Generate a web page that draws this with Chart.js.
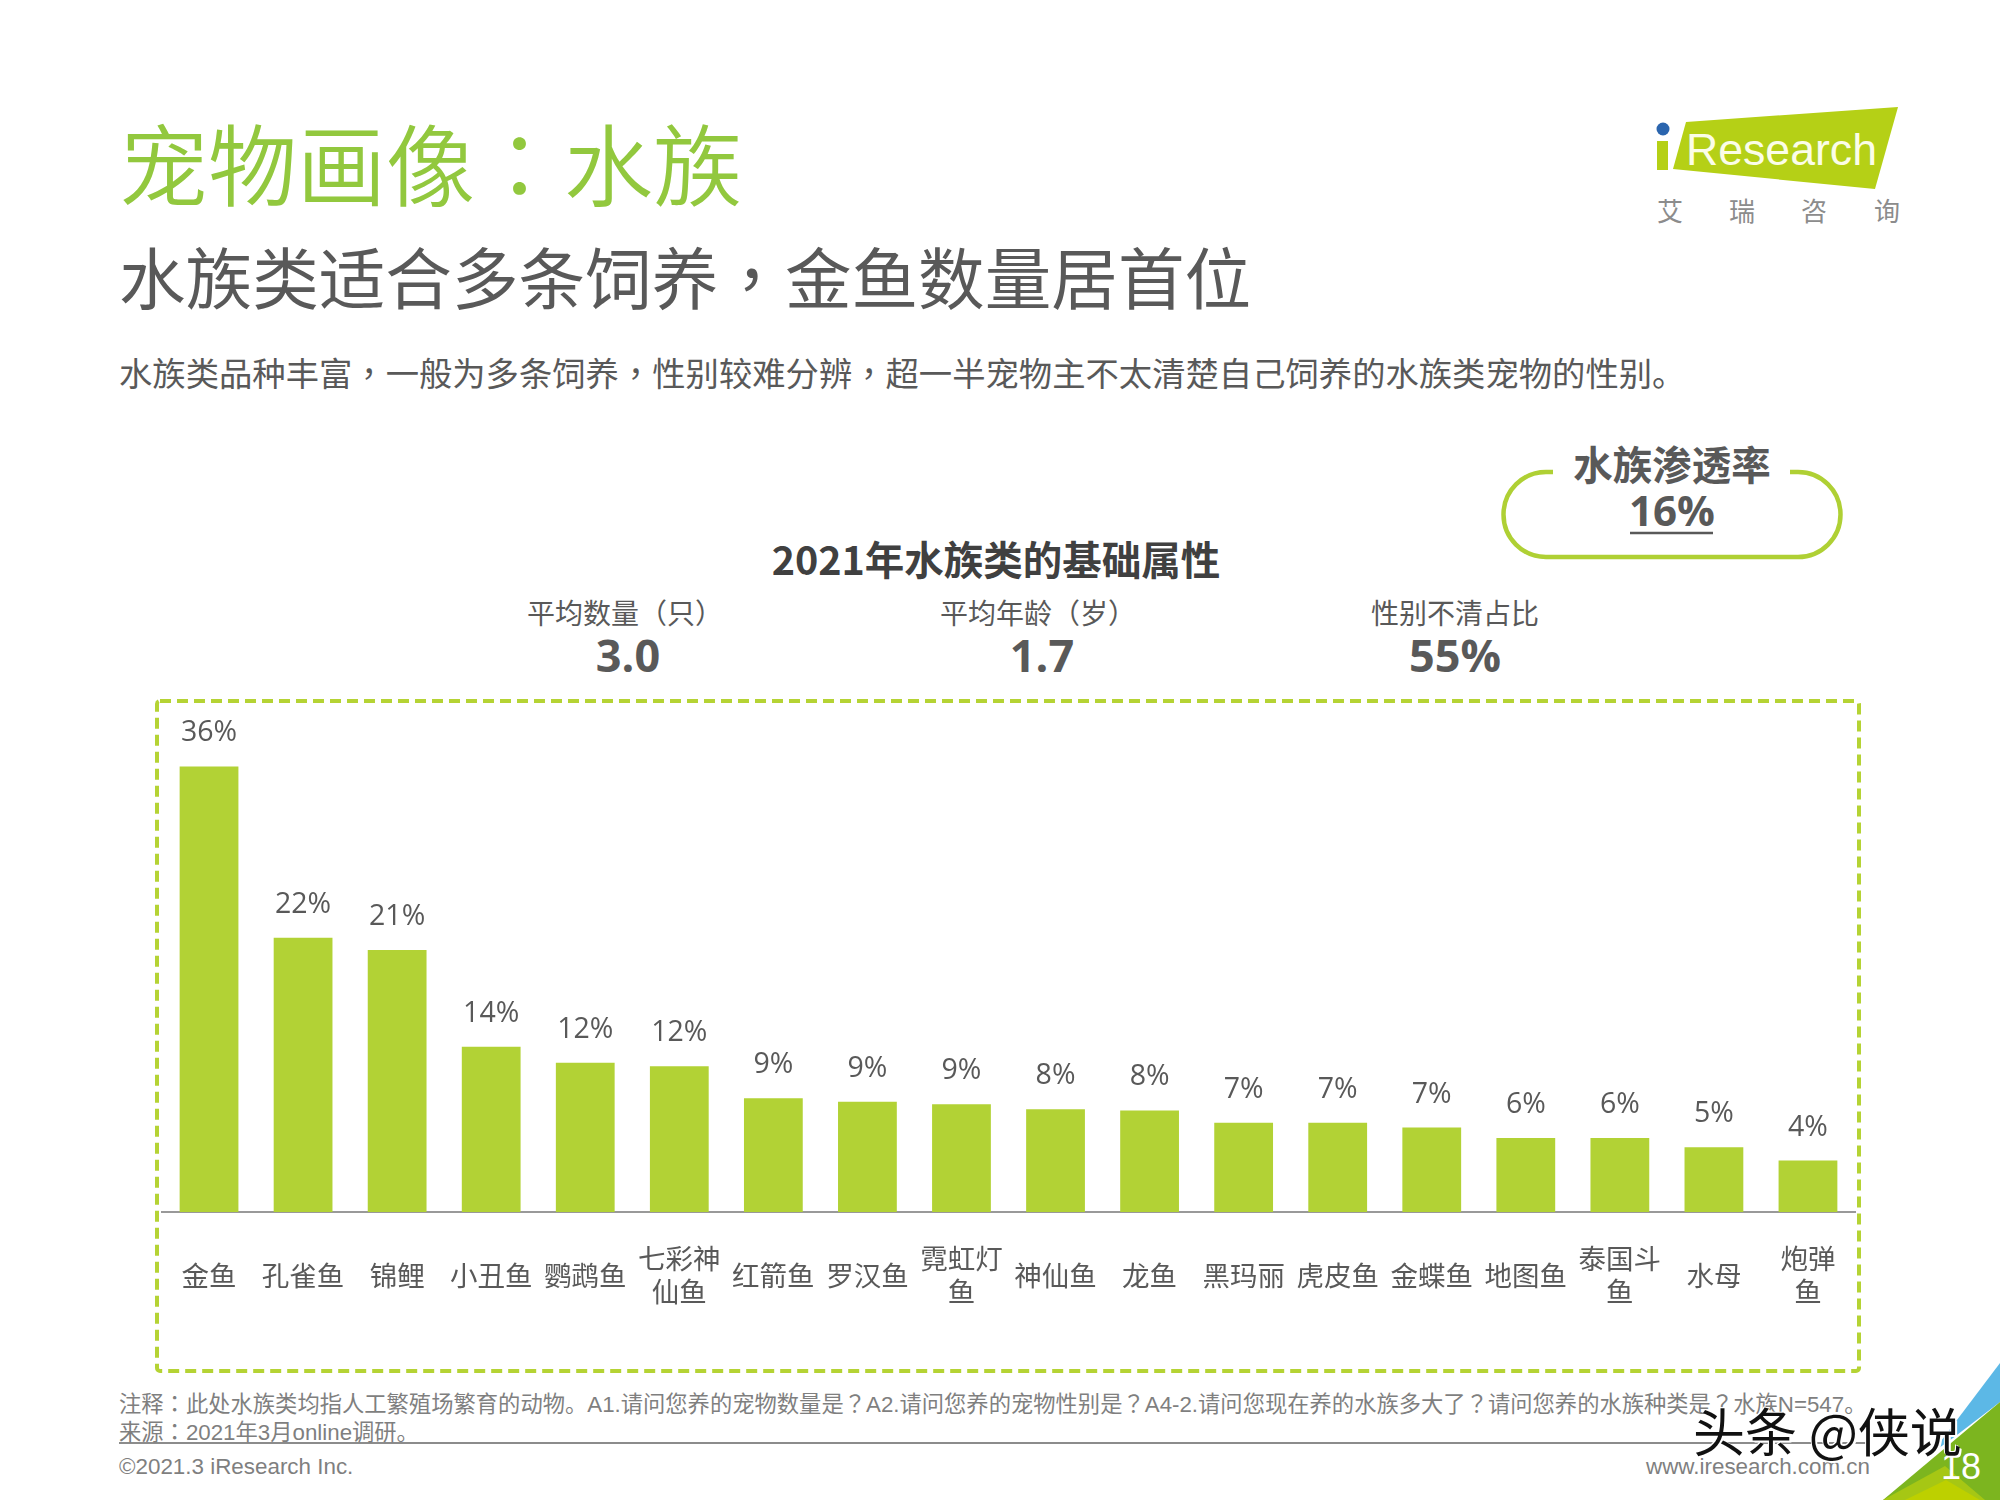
<!DOCTYPE html>
<html lang="zh-CN">
<head>
<meta charset="utf-8">
<title>宠物画像&#xFF1A;水族</title>
<script src="https://cdn.jsdelivr.net/npm/chart.js@4"></script>
<style>
  html, body { margin: 0; padding: 0; background: #fff; }
  body { position: relative; width: 2000px; height: 1500px; overflow: hidden; font-family: "Noto Sans CJK SC", sans-serif; color: #595959; }
  .t { position: absolute; white-space: nowrap; line-height: 1; }
  .c { transform: translateX(-50%); }
  .p { font-family: "Noto Sans CJK TC", sans-serif; }
  svg, canvas { position: absolute; left: 0; top: 0; }
  .foot { font-family: "Liberation Sans", "Noto Sans CJK SC", sans-serif; color: #7f7f7f; }
</style>
</head>
<body>
<svg width="2000" height="1500" viewBox="0 0 2000 1500">
  <!-- corner -->
  <polygon points="2000,1363 1932,1453 1953,1438 2000,1402" fill="#5cb8e6"/>
  <polygon points="2000,1402 1883,1500 2000,1500" fill="#7cb51f"/>
  <polygon points="1883,1500 1945,1466 1985,1500" fill="#a6c714"/>
  <polygon points="1905,1500 1946,1480 1980,1500" fill="#bdd000"/>
  <!-- logo -->
  <circle cx="1663" cy="129" r="6.5" fill="#2b65ae"/>
  <rect x="1657" y="141" width="11" height="29" fill="#b5d016"/>
  <polygon points="1686,122 1898,107 1875,189 1673,169" fill="#b5d016"/>
  <text x="1686" y="165" font-family="Liberation Sans" font-size="44" fill="#fbfde8" textLength="191" lengthAdjust="spacingAndGlyphs">Research</text>
  <g font-family="Noto Sans CJK SC" font-size="26" fill="#8c8c8c" text-anchor="middle">
    <text x="1670" y="221">艾</text><text x="1742" y="221">瑞</text><text x="1814" y="221">咨</text><text x="1887" y="221">询</text>
  </g>
  <!-- penetration pill -->
  <path d="M1553 472 H1546 A42.5 42.5 0 0 0 1546 557 H1798 A42.5 42.5 0 0 0 1798 472 H1790" fill="none" stroke="#afd034" stroke-width="4.5"/>
  <line x1="1630" y1="533" x2="1713" y2="533" stroke="#595959" stroke-width="2.5"/>
  <!-- dashed frame -->
  <rect x="157" y="701" width="1702" height="670" rx="3" fill="none" stroke="#b5d334" stroke-width="4" stroke-dasharray="11 6"/>
  <!-- footer rule -->
  <line x1="119" y1="1443" x2="1870" y2="1443" stroke="#8c8c8c" stroke-width="2"/>
</svg>

<div class="t" style="left:119px;top:116px;font-size:89px;font-weight:350;color:#92c83e">宠物画像<span class="p" lang="zh-TW">&#xFF1A;</span>水族</div>
<div class="t" style="left:119px;top:242px;font-size:66.6px;color:#595959">水族类适合多条饲养<span class="p" lang="zh-TW">&#xFF0C;</span>金鱼数量居首位</div>
<div class="t" style="left:119px;top:355px;font-size:33.35px;color:#595959">水族类品种丰富<span class="p" lang="zh-TW">&#xFF0C;</span>一般为多条饲养<span class="p" lang="zh-TW">&#xFF0C;</span>性别较难分辨<span class="p" lang="zh-TW">&#xFF0C;</span>超一半宠物主不太清楚自己饲养的水族类宠物的性别。</div>

<div class="t c" style="left:1672px;top:443px;font-size:39.5px;font-weight:700">水族渗透率</div>
<div class="t c" style="left:1672px;top:489px;font-size:42px;font-weight:700;font-family:'Open Sans'">16%</div>
<div class="t c" style="left:996px;top:538px;font-size:39.5px;font-weight:700;color:#404040">2021年水族类的基础属性</div>
<div id="stats"></div>

<div class="t foot" style="left:119px;top:1391px;font-size:22.3px">注释<span class="p" lang="zh-TW">&#xFF1A;</span>此处水族类均指人工繁殖场繁育的动物。A1.请问您养的宠物数量是<span class="p" lang="zh-TW">&#xFF1F;</span>A2.请问您养的宠物性别是<span class="p" lang="zh-TW">&#xFF1F;</span>A4-2.请问您现在养的水族多大了<span class="p" lang="zh-TW">&#xFF1F;</span>请问您养的水族种类是<span class="p" lang="zh-TW">&#xFF1F;</span>水族N=547。</div>
<div class="t foot" style="left:119px;top:1419px;font-size:22.3px">来源<span class="p" lang="zh-TW">&#xFF1A;</span>2021年3月online调研。</div>
<div class="t foot" style="left:119px;top:1456px;font-size:22.4px">©2021.3 iResearch Inc.</div>
<div class="t foot" style="right:130px;top:1456px;font-size:22.4px">www.iresearch.com.cn</div>
<div class="t" style="left:1941px;top:1449px;font-size:36px;font-weight:300;color:#fff;font-family:'Liberation Sans'">18</div>

<canvas id="grafico" width="2000" height="1500"></canvas>

<div class="t" style="left:1693px;top:1404px;font-size:52px;color:#111;text-shadow:2px 2px 0 #fff,-1px -1px 0 #fff">头条 @侠说</div>

<script>
const categorias = ["金鱼", "孔雀鱼", "锦鲤", "小丑鱼", "鹦鹉鱼", ["七彩神", "仙鱼"], "红箭鱼", "罗汉鱼", ["霓虹灯", "鱼"], "神仙鱼", "龙鱼", "黑玛丽", "虎皮鱼", "金蝶鱼", "地图鱼", ["泰国斗", "鱼"], "水母", ["炮弹", "鱼"]];
const valores = [36.4, 22.4, 21.4, 13.5, 12.2, 11.9, 9.3, 9.0, 8.8, 8.4, 8.3, 7.3, 7.3, 6.9, 6.05, 6.05, 5.3, 4.2];
const statNomes = ["平均数量\uFF08只\uFF09", "平均年龄\uFF08岁\uFF09", "性别不清占比"];
const statValores = ["3.0", "1.7", "55%"];
const statCentros = [[625, 628], [1038, 1042], [1455, 1455]];

const stats = document.querySelector("#stats");
statNomes.forEach((nome, i) => {
  stats.insertAdjacentHTML("beforeend",
    `<div class="t c" style="left:${statCentros[i][0]}px;top:598px;font-size:28px">${nome}</div>` +
    `<div class="t c" style="left:${statCentros[i][1]}px;top:632px;font-size:45px;font-weight:700;font-family:'Open Sans'">${statValores[i]}</div>`);
});

// percent labels above the bars
const rotulos = {
  id: "rotulos",
  afterDatasetsDraw(chart) {
    const ctx = chart.ctx;
    ctx.save();
    ctx.font = "28.5px 'Open Sans'";
    ctx.fillStyle = "#595959";
    ctx.textAlign = "center";
    ctx.textBaseline = "alphabetic";
    chart.getDatasetMeta(0).data.forEach((barra, i) => {
      ctx.fillText(Math.round(valores[i]) + "%", barra.x, barra.y - 25);
    });
    ctx.restore();
  }
};

new Chart(document.querySelector("#grafico"), {
  type: "bar",
  data: {
    labels: categorias,
    datasets: [{
      data: valores,
      backgroundColor: "#b2d235",
      borderWidth: 0,
      categoryPercentage: 1,
      barPercentage: 0.625
    }]
  },
  plugins: [rotulos],
  options: {
    responsive: false,
    animation: false,
    devicePixelRatio: 1,
    layout: { padding: { left: 162, right: 145, top: 712, bottom: 129 } },
    plugins: { legend: { display: false }, title: { display: false }, tooltip: { enabled: false } },
    scales: {
      x: {
        afterFit(escala) { escala.height = 159; },
        grid: { display: false, drawTicks: false },
        border: { color: "#999999", width: 2 },
        ticks: {
          color: "#595959",
          font: { family: "'Noto Sans CJK SC'", size: 27.5, lineHeight: 1.17 },
          padding: 47,
          maxRotation: 0,
          autoSkip: false,
          crossAlign: "center"
        }
      },
      y: { display: false, min: 0, max: 40.85 }
    }
  }
});
</script>
</body>
</html>
